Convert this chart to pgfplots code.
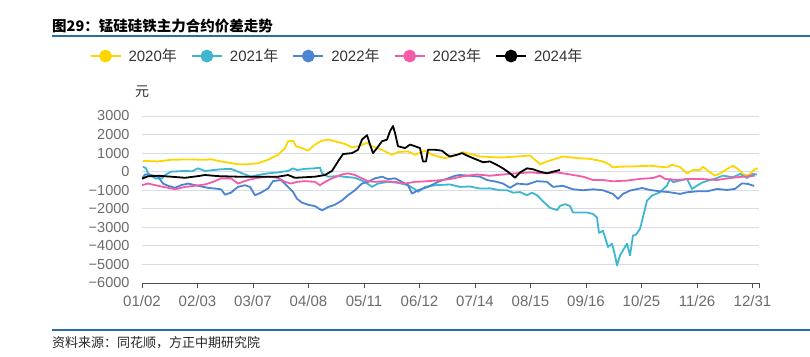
\documentclass[border=0pt]{standalone}
\usepackage{fontspec}
\setmainfont{Liberation Sans}
\newfontfamily\cjk{Noto Sans CJK SC}
\usepackage{pgfplots}
\pgfplotsset{compat=1.18}
\definecolor{c20}{HTML}{FFD500}
\definecolor{c21}{HTML}{3DB6CF}
\definecolor{c22}{HTML}{4A84D3}
\definecolor{c23}{HTML}{F45CA8}
\definecolor{c24}{HTML}{000000}
\definecolor{tickgray}{HTML}{6B6B6B}
\definecolor{gridc}{HTML}{D6DCE8}
\definecolor{rulec}{HTML}{2A6EA8}
\begin{document}
\begin{tikzpicture}
\useasboundingbox (0pt,0pt) rectangle (810pt,356pt);
\node[anchor=west,inner sep=0pt] at (52pt,330pt) {\cjk\bfseries\fontsize{14.5}{17}\selectfont 图29：锰硅硅铁主力合约价差走势};
\draw[rulec,line width=1.3pt] (52pt,320pt) -- (810pt,320pt);
\draw[rulec,line width=1.5pt] (52pt,26pt) -- (810pt,26pt);
\node[anchor=west,inner sep=0pt,text=black!85] at (52pt,13pt) {\cjk\fontsize{13}{15}\selectfont 资料来源：同花顺，方正中期研究院};
\node[inner sep=0pt,text=black!80] at (142pt,264pt) {\cjk\fontsize{14}{16}\selectfont 元};
\begin{axis}[
  at={(142pt,73pt)}, anchor=south west,
  scale only axis, width=617pt, height=167pt,
  xmin=0, xmax=617, ymin=-6000, ymax=3000,
  axis x line*=bottom, axis y line*=left,
  y axis line style={draw=none},
  x axis line style={draw=black!70,line width=1pt,-},
  xtick={0,55.5,111,166.5,222,277.5,333,388.5,444,499.5,555,610.5,617},
  xticklabels={01/02,02/03,03/07,04/08,05/11,06/12,07/14,08/15,09/16,10/25,11/26,12/31,},
  ytick={-6000,-5000,-4000,-3000,-2000,-1000,0,1000,2000,3000},
  yticklabels={−6000,−5000,−4000,−3000,−2000,−1000,0,1000,2000,3000},
  tick align=outside,
  major tick length=5pt,
  x tick style={draw=black!70,line width=1pt},
  y tick style={draw=none},
  xticklabel style={font=\fontsize{15}{18}\selectfont, text=tickgray, yshift=-4pt},
  yticklabel style={font=\fontsize{14.5}{17}\selectfont, text=tickgray, xshift=-4pt},
  ymajorgrids, grid style={gridc,line width=1pt},
  legend style={draw=none, fill=none, at={(0.3144,1.359)}, anchor=center,
    legend columns=5, font=\fontsize{15}{18}\selectfont, text=black!80,
    nodes={inner sep=0pt},
    /tikz/every odd column/.append style={column sep=7pt},
    /tikz/every even column/.append style={column sep=14pt}},
  legend image code/.code={\draw[line width=2pt] (0pt,0pt) -- (30pt,0pt); \fill (15pt,0pt) circle (5.5pt);},
  every axis plot/.append style={line width=1.8pt, line join=round, mark=none},
]
\addplot[c20] coordinates {(1,580)(16,550)(29,640)(46,660)(63,640)(69,670)(79,550)(96,400)(106,400)(116,455)(126,640)(136,910)(143,1270)(146,1640)(151,1670)(154,1370)(160,1270)(166,1130)(173,1460)(180,1670)(186,1730)(193,1640)(203,1490)(210,1310)(216,1370)(225,1550)(230,1370)(240,1180)(250,910)(256,1060)(266,1090)(273,910)(283,1130)(290,910)(303,730)(310,820)(321,1050)(338,820)(358,760)(375,820)(388,870)(398,400)(405,550)(421,820)(435,730)(448,690)(461,550)(468,360)(471,230)(478,270)(490,280)(508,320)(525,230)(530,375)(538,250)(545,-90)(551,90)(558,90)(561,270)(568,-36)(573,-215)(578,-100)(585,140)(591,320)(596,140)(601,-125)(606,-215)(613,140)(616,180)};
\addlegendentry{2020\cjk{年}}
\addplot[c21] coordinates {(1,270)(4,180)(6,-90)(13,-360)(20,-360)(23,-180)(29,0)(43,40)(50,20)(56,180)(63,40)(79,130)(89,150)(96,0)(103,-150)(109,-270)(116,-180)(126,-90)(136,-40)(146,40)(151,180)(155,90)(163,150)(173,180)(178,220)(180,-90)(186,-270)(196,-240)(213,-330)(223,-550)(230,-820)(236,-640)(246,-550)(256,-600)(266,-730)(273,-950)(276,-1090)(283,-820)(293,-730)(308,-690)(318,-820)(328,-800)(338,-910)(348,-900)(358,-1000)(365,-1000)(371,-1130)(378,-1100)(385,-1270)(390,-1130)(395,-1270)(401,-1600)(408,-1950)(415,-2070)(418,-1850)(423,-1750)(428,-1850)(431,-2200)(438,-2200)(445,-2200)(451,-2280)(455,-2470)(457,-3300)(461,-3190)(463,-3530)(466,-4060)(470,-3880)(473,-4510)(475,-5050)(478,-4510)(481,-4240)(485,-3880)(488,-4510)(491,-3440)(494,-3400)(498,-3080)(501,-2450)(505,-1560)(510,-1290)(518,-1110)(525,-750)(528,-390)(531,-570)(538,-480)(545,-390)(550,-930)(555,-750)(561,-570)(568,-450)(575,-340)(581,-215)(591,-300)(598,-125)(605,-340)(611,-125)(615,-150)};
\addlegendentry{2021\cjk{年}}
\addplot[c22] coordinates {(0,-360)(3,-150)(9,-180)(16,-270)(21,-640)(26,-760)(33,-870)(39,-730)(46,-640)(56,-760)(66,-870)(73,-910)(79,-950)(83,-1240)(89,-1130)(96,-820)(103,-730)(108,-820)(113,-1270)(119,-1130)(126,-910)(131,-510)(139,-450)(146,-820)(151,-1090)(155,-1460)(160,-1670)(166,-1780)(173,-1860)(180,-2090)(186,-1910)(193,-1780)(200,-1550)(206,-1270)(213,-1000)(220,-640)(226,-550)(233,-360)(240,-270)(246,-400)(253,-360)(260,-550)(266,-730)(270,-1180)(276,-1000)(286,-820)(296,-550)(306,-360)(313,-220)(318,-180)(328,-220)(338,-270)(345,-450)(355,-550)(361,-640)(368,-870)(375,-640)(385,-690)(395,-510)(405,-550)(411,-820)(421,-760)(431,-950)(441,-1000)(451,-950)(461,-1000)(471,-1200)(476,-1470)(481,-1200)(488,-1020)(500,-880)(508,-985)(518,-1060)(528,-1110)(538,-1200)(545,-1110)(555,-1060)(565,-1060)(575,-930)(585,-985)(593,-930)(600,-630)(606,-660)(612,-770)};
\addlegendentry{2022\cjk{年}}
\addplot[c23] coordinates {(0,-730)(6,-640)(16,-760)(26,-870)(33,-950)(43,-820)(53,-760)(63,-690)(73,-510)(79,-360)(89,-360)(96,-640)(106,-450)(116,-330)(126,-270)(136,-330)(143,-550)(149,-640)(155,-550)(163,-510)(173,-550)(178,-730)(183,-550)(190,-360)(200,-150)(206,-90)(213,-180)(220,-360)(226,-510)(233,-550)(243,-510)(253,-550)(263,-640)(273,-550)(286,-510)(300,-450)(308,-400)(321,-250)(335,-150)(348,-220)(361,-150)(375,-90)(388,-40)(401,-90)(415,-40)(428,-150)(441,-270)(451,-450)(461,-450)(471,-520)(485,-480)(498,-390)(511,-340)(518,-215)(523,-390)(535,-450)(548,-390)(561,-400)(575,-450)(588,-340)(601,-270)(613,-215)};
\addlegendentry{2023\cjk{年}}
\addplot[c24] coordinates {(0,-380)(6,-250)(16,-220)(29,-270)(43,-330)(56,-240)(63,-180)(76,-240)(96,-270)(116,-270)(136,-270)(146,-180)(153,-330)(163,-300)(173,-270)(183,-180)(190,40)(196,550)(201,950)(210,1000)(216,1180)(220,1730)(225,1970)(228,1460)(231,1000)(235,1270)(240,1640)(245,1730)(248,2180)(251,2460)(253,2090)(256,1370)(263,1270)(268,1460)(273,1370)(278,1270)(281,550)(284,550)(286,1180)(293,1180)(300,1130)(305,910)(308,820)(315,910)(320,1000)(325,870)(331,730)(341,510)(348,550)(355,360)(361,180)(368,-90)(373,-330)(378,-40)(385,180)(391,130)(398,0)(405,-90)(411,0)(418,90)};
\addlegendentry{2024\cjk{年}}
\end{axis}
\end{tikzpicture}
\end{document}
